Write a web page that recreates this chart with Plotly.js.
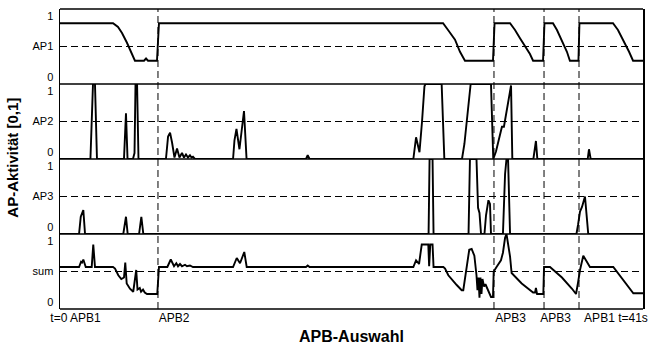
<!DOCTYPE html>
<html>
<head>
<meta charset="utf-8">
<script src="https://cdn.plot.ly/plotly-3.0.1.min.js"></script>
<style>html,body{margin:0;padding:0;background:#fff;}#chart{width:650px;height:344px;}</style>
</head>
<body>
<div id="chart"></div>
<script>
// ---- data (time in seconds, activity in [0,1]) ----
const tAP1 = [0, 3.73, 4.08, 4.36, 4.71, 5.06, 5.27, 5.91, 6.05, 6.19, 6.82, 6.96, 26.94, 27.29, 27.78, 28.13, 28.48, 30.45, 30.56, 31.65, 32.00, 32.35, 32.70, 33.05, 33.27, 33.97, 34.07, 34.67, 34.95, 35.30, 35.65, 35.86, 36.46, 36.53, 38.89, 39.24, 39.66, 40.02, 40.30, 41.0];
const vAP1 = [0.81, 0.81, 0.76, 0.68, 0.55, 0.39, 0.31, 0.31, 0.34, 0.31, 0.31, 0.81, 0.81, 0.72, 0.59, 0.43, 0.31, 0.31, 0.81, 0.81, 0.72, 0.61, 0.51, 0.40, 0.31, 0.31, 0.81, 0.81, 0.72, 0.57, 0.43, 0.31, 0.31, 0.81, 0.81, 0.72, 0.57, 0.43, 0.31, 0.31];

const tAP2 = [0, 2.14, 2.32, 2.46, 2.60, 4.50, 4.64, 4.75, 5.13, 5.24, 5.31, 5.42, 5.52, 7.45, 7.60, 7.74, 7.88, 8.05, 8.23, 8.40, 8.58, 8.72, 8.86, 9.00, 9.14, 9.25, 9.35, 9.49, 12.17, 12.27, 12.41, 12.62, 12.94, 13.12, 17.30, 17.42, 17.55, 24.85, 25.04, 25.28, 25.46, 25.63, 25.70, 26.84, 27.03, 28.27, 28.44, 28.60, 28.76, 28.88, 30.31, 30.47, 30.66, 30.87, 31.08, 31.22, 31.37, 31.58, 31.72, 31.81, 33.29, 33.47, 33.57, 37.11, 37.20, 37.32, 41.0];
const vAP2 = [0, 0, 1, 1, 0, 0, 0.61, 0, 0, 0.08, 1, 1, 0, 0, 0.30, 0.35, 0.22, 0.02, 0.14, 0.02, 0.08, 0.02, 0.06, 0.02, 0.05, 0.02, 0.03, 0, 0, 0.25, 0.40, 0.13, 0.64, 0, 0, 0.05, 0, 0, 0.29, 0.09, 0.50, 0.97, 1, 1, 0, 0, 0.2, 0.5, 0.85, 1, 1, 0, 0.1, 0.25, 0.43, 0.43, 0.58, 0.82, 0.98, 0, 0, 0.24, 0, 0, 0.13, 0, 0];

const tAP3 = [0, 1.34, 1.46, 1.64, 1.76, 4.45, 4.64, 4.76, 5.56, 5.72, 5.86, 25.92, 25.99, 26.20, 26.27, 28.73, 28.83, 29.29, 29.40, 29.50, 29.61, 29.85, 29.96, 30.13, 30.24, 30.31, 31.15, 31.30, 31.40, 31.51, 31.65, 36.32, 36.43, 36.57, 36.71, 36.82, 36.92, 37.15, 41.0];
const vAP3 = [0, 0, 0.23, 0.32, 0, 0, 0.23, 0, 0, 0.23, 0, 0, 1, 1, 0, 0, 1, 1, 0.35, 0.28, 0, 0, 0.25, 0.45, 0.40, 0, 0, 0.8, 1, 1, 0, 0, 0.12, 0.30, 0.36, 0.45, 0.50, 0, 0];

const tSum = [0, 1.34, 1.48, 1.55, 1.64, 1.81, 2.23, 2.34, 2.46, 3.73, 3.87, 4.10, 4.31, 4.50, 4.59, 4.69, 4.92, 5.15, 5.36, 5.45, 5.61, 5.70, 5.84, 5.96, 6.12, 6.84, 6.96, 7.55, 7.79, 8.02, 8.18, 8.30, 8.44, 8.58, 8.79, 8.93, 9.14, 9.35, 12.17, 12.43, 12.66, 12.96, 13.13, 17.30, 17.42, 17.55, 24.85, 25.04, 25.25, 25.44, 25.90, 25.96, 26.04, 26.20, 26.27, 26.96, 27.08, 27.31, 27.90, 28.25, 28.36, 28.55, 28.67, 28.78, 28.95, 29.14, 29.29, 29.36, 29.43, 29.50, 29.57, 29.64, 29.71, 29.82, 29.92, 30.03, 30.13, 30.24, 30.31, 30.45, 30.50, 30.70, 31.01, 31.15, 31.30, 31.40, 31.54, 31.65, 31.76, 32.47, 33.27, 33.41, 33.47, 33.55, 33.99, 34.04, 34.46, 35.30, 36.01, 36.29, 36.43, 36.57, 36.80, 37.04, 37.15, 37.27, 38.91, 40.32, 41.0];
const vSum = [0.56, 0.56, 0.63, 0.62, 0.66, 0.56, 0.56, 0.86, 0.56, 0.56, 0.54, 0.45, 0.40, 0.42, 0.62, 0.34, 0.27, 0.23, 0.52, 0.26, 0.28, 0.23, 0.26, 0.22, 0.20, 0.20, 0.56, 0.56, 0.66, 0.57, 0.61, 0.57, 0.60, 0.57, 0.59, 0.57, 0.58, 0.56, 0.56, 0.68, 0.61, 0.76, 0.56, 0.56, 0.58, 0.56, 0.56, 0.65, 0.60, 0.86, 0.86, 0.57, 0.86, 0.86, 0.56, 0.56, 0.54, 0.45, 0.32, 0.25, 0.25, 0.50, 0.65, 0.79, 0.80, 0.71, 0.45, 0.25, 0.42, 0.15, 0.42, 0.20, 0.40, 0.30, 0.33, 0.28, 0.22, 0.18, 0.16, 0.16, 0.50, 0.56, 0.65, 0.75, 0.95, 1.0, 0.85, 0.70, 0.48, 0.34, 0.22, 0.22, 0.28, 0.20, 0.20, 0.56, 0.56, 0.42, 0.27, 0.20, 0.35, 0.52, 0.71, 0.63, 0.59, 0.56, 0.56, 0.21, 0.21];

const panelNames = ['AP1', 'AP2', 'AP3', 'sum'];
const switchTimes = [6.89, 30.52, 34.04, 36.50];
const xLabelTimes = [1.09, 8.02, 31.68, 34.85, 39.1];
const xLabels = ['t=0 APB1', 'APB2', 'APB3', 'APB3', 'APB1 t=41s'];
const tMax = 41;

// ---- figure ----
const FONT = 'Liberation Sans, Arial, Helvetica, sans-serif';
const series = [[tAP1, vAP1], [tAP2, vAP2], [tAP3, vAP3], [tSum, vSum]];
const yNames = ['y', 'y2', 'y3', 'y4'];
const domains = [[0.75, 1], [0.5, 0.75], [0.25, 0.5], [0, 0.25]];

const traces = series.map((s, i) => ({
  x: s[0], y: s[1], type: 'scatter', mode: 'lines',
  xaxis: 'x', yaxis: yNames[i],
  line: {color: '#000', width: 1.9, shape: 'linear'},
  hoverinfo: 'skip', showlegend: false
}));

const layout = {
  width: 650, height: 344,
  margin: {l: 60, r: 7, t: 9, b: 35},
  paper_bgcolor: '#fff', plot_bgcolor: '#fff',
  font: {family: FONT, size: 12, color: '#000'},
  showlegend: false,
  xaxis: {
    range: [0, tMax], domain: [0, 1], anchor: 'y4',
    showgrid: false, zeroline: false, showline: false,
    tickmode: 'array', tickvals: xLabelTimes, ticktext: xLabels,
    ticks: '', tickfont: {family: FONT, size: 12, color: '#000'}
  },
  shapes: [],
  annotations: [
    {text: '<b>APB-Auswahl</b>', xref: 'paper', yref: 'paper', x: 0.5, y: -0.09,
     xanchor: 'center', yanchor: 'middle', showarrow: false,
     font: {family: FONT, size: 16, color: '#000'}},
    {text: '<b>AP-Aktivität [0,1]</b>', xref: 'paper', yref: 'paper', x: -0.082, y: 0.505,
     xanchor: 'center', yanchor: 'middle', textangle: -90, showarrow: false,
     font: {family: FONT, size: 15, color: '#000'}}
  ]
};

yNames.forEach((yn, i) => {
  const key = i === 0 ? 'yaxis' : 'yaxis' + (i + 1);
  layout[key] = {
    domain: domains[i], range: [0, 1], anchor: 'x',
    showgrid: false, zeroline: false,
    showline: true, linecolor: '#000', linewidth: 1.5, mirror: true,
    tickmode: 'array', tickvals: [0.09, 0.5, 0.91], ticktext: ['0', panelNames[i], '1'],
    ticks: '', ticklabelstandoff: 3,
    tickfont: {family: FONT, size: 11, color: '#000'}
  };
  // dashed mid line
  layout.shapes.push({type: 'line', xref: 'paper', yref: yn, x0: 0, x1: 1, y0: 0.5, y1: 0.5,
    line: {color: '#000', width: 1, dash: '7px,4px'}, layer: 'below'});
});

// horizontal panel borders
[0, 0.25, 0.5, 0.75, 1].forEach(p => {
  layout.shapes.push({type: 'line', xref: 'paper', yref: 'paper', x0: 0, x1: 1, y0: p, y1: p,
    line: {color: '#000', width: 1.5}});
});

// vertical dashed switch lines
switchTimes.forEach(t => {
  layout.shapes.push({type: 'line', xref: 'x', yref: 'paper', x0: t, x1: t, y0: 0, y1: 1,
    line: {color: '#000', width: 1, dash: '7px,4px'}, layer: 'below'});
});

Plotly.newPlot('chart', traces, layout, {staticPlot: true, displayModeBar: false});
</script>
</body>
</html>
